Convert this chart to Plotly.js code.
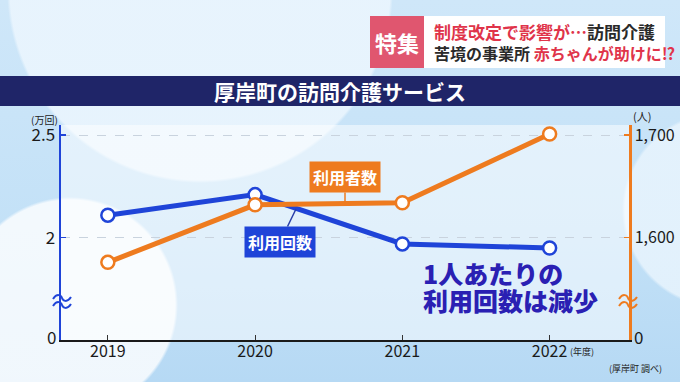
<!DOCTYPE html>
<html>
<head>
<meta charset="utf-8">
<script src="https://cdn.plot.ly/plotly-3.0.1.min.js"></script>
<style>
html, body { margin:0; padding:0; }
body {
  width:680px; height:382px; overflow:hidden;
  background:
    radial-gradient(circle at 70px 305px, rgba(255,255,255,0.8) 0 105px, rgba(255,255,255,0) 108px),
    radial-gradient(circle at 200px -10px, rgba(236,246,254,0.85) 0 190px, rgba(236,246,254,0) 193px),
    radial-gradient(circle at 720px 210px, rgba(232,244,253,0.85) 0 95px, rgba(232,244,253,0) 98px),
    linear-gradient(180deg, #cfe7f9 0%, #c3e1f7 60%, #b6d9f4 100%);
}
#chart { width:680px; height:382px; }
</style>
</head>
<body>
<div id="chart"></div>
<script>
// ---- data ----
const years = [2019, 2020, 2021, 2022];
const yearLabels = ['2019', '2020', '2021', '2022'];
const visits = [2.11, 2.21, 1.97, 1.95];      // 利用回数 (万回)
const users = [1576, 1632, 1634, 1701];       // 利用者数 (人)
const leftTickVals = [2, 2.5];
const leftTickText = ['2', '2.5'];
const rightTickVals = [1600, 1700];
const rightTickText = ['1,600', '1,700'];

// ---- layout helpers (pixel -> paper) ----
const L = 61, R = 629, T = 125, B = 340;
const px = x => (x - L) / (R - L);
const py = y => (B - y) / (B - T);

const FONT = '"Noto Sans CJK JP", "Noto Sans", sans-serif';
const BLUE = '#1f44d8';
const ORANGE = '#ee7b1f';

function wave(cx, cy) {
  const pts = [[cx-9, cy+1], [cx-5, cy-5], [cx-1, cy-3], [cx, cy], [cx+1, cy+3], [cx+5, cy+5], [cx+9, cy-1]];
  const p = pts.map(([x, y]) => px(x).toFixed(5) + ',' + py(y).toFixed(5));
  return 'M' + p[0] + ' C' + p[1] + ' ' + p[2] + ' ' + p[3] + ' C' + p[4] + ' ' + p[5] + ' ' + p[6];
}

const shapes = [
  // title band
  {type:'rect', xref:'paper', yref:'paper', x0:px(0), x1:px(680), y0:py(106), y1:py(76),
   fillcolor:'#1f2568', line:{width:0}, layer:'below'},
  // header box
  {type:'rect', xref:'paper', yref:'paper', x0:px(370), x1:px(424), y0:py(68), y1:py(16),
   fillcolor:'#e0566f', line:{width:0}},
  {type:'rect', xref:'paper', yref:'paper', x0:px(424), x1:px(665), y0:py(68), y1:py(16),
   fillcolor:'#ffffff', line:{width:0}},
  // axis break marks
  {type:'path', xref:'paper', yref:'paper', path:wave(62, 298), line:{color:BLUE, width:2}},
  {type:'path', xref:'paper', yref:'paper', path:wave(62, 305), line:{color:BLUE, width:2}},
  {type:'path', xref:'paper', yref:'paper', path:wave(628, 298), line:{color:ORANGE, width:2}},
  {type:'path', xref:'paper', yref:'paper', path:wave(628, 305), line:{color:ORANGE, width:2}},
];

const ann = (o) => Object.assign({xref:'paper', yref:'paper', showarrow:false, xanchor:'center', yanchor:'middle'}, o);

const annotations = [
  ann({x:px(397), y:py(42), text:'特集', font:{family:FONT, size:22, color:'#ffffff', weight:700}}),
  ann({x:px(432), y:py(31), xanchor:'left', text:'<span style="color:#e0344a">制度改定で影響が…</span>訪問介護',
       font:{family:FONT, size:17, color:'#2a2a2a', weight:700}}),
  ann({x:px(432), y:py(53), xanchor:'left', text:'苦境の事業所 <span style="color:#e0344a">赤ちゃんが助けに⁉</span>',
       font:{family:FONT, size:16, color:'#2a2a2a', weight:700}}),
  ann({x:px(340), y:py(91), text:'厚岸町の訪問介護サービス', font:{family:FONT, size:21, color:'#ffffff', weight:700}}),
  ann({x:px(44), y:py(120), text:'(万回)', font:{family:FONT, size:10, color:'#222'}}),
  ann({x:px(642), y:py(116), text:'(人)', font:{family:FONT, size:11, color:'#222'}}),
  ann({x:px(58), y:py(336), xanchor:'right', text:'0', font:{family:FONT, size:17, color:'#1a1a1a'}}),
  ann({x:px(632), y:py(336), xanchor:'left', text:'0', font:{family:FONT, size:17, color:'#1a1a1a'}}),
  ann({x:px(568), y:py(351), xanchor:'left', text:'(年度)', font:{family:FONT, size:9, color:'#222'}}),
  ann({x:px(664), y:py(368), xanchor:'right', text:'(厚岸町 調べ)', font:{family:FONT, size:9, color:'#222'}}),
  // series labels
  {xref:'paper', yref:'paper', x:px(345), y:py(205), ax:0, ay:-28, showarrow:true, arrowhead:0,
   arrowwidth:1.5, arrowcolor:ORANGE, text:'利用者数', bgcolor:ORANGE, borderpad:3,
   font:{family:FONT, size:16, color:'#ffffff', weight:700}},
  {xref:'paper', yref:'paper', x:px(296), y:py(209), ax:-16, ay:33, showarrow:true, arrowhead:0,
   arrowwidth:1.5, arrowcolor:'#2a3fa8', text:'利用回数', bgcolor:BLUE, borderpad:3,
   font:{family:FONT, size:16, color:'#ffffff', weight:700}},
  // callout
  ann({x:px(421), y:py(273), xanchor:'left', text:'1人あたりの', font:{family:FONT, size:25, color:'#2a20b3', weight:900}}),
  ann({x:px(421), y:py(300), xanchor:'left', text:'利用回数は減少', font:{family:FONT, size:25, color:'#2a20b3', weight:900}}),
];

const traces = [
  {x:years, y:users, yaxis:'y2', type:'scatter', mode:'lines+markers', name:'利用者数',
   line:{color:ORANGE, width:5}, marker:{size:13, color:'#ffffff', line:{color:ORANGE, width:2.5}}, hoverinfo:'none'},
  {x:years, y:visits, yaxis:'y', type:'scatter', mode:'lines+markers', name:'利用回数',
   line:{color:BLUE, width:5}, marker:{size:13, color:'#ffffff', line:{color:BLUE, width:2.5}}, hoverinfo:'none'},
];

const layout = {
  width:680, height:382,
  margin:{l:L, r:680-R, t:T, b:382-B, pad:0},
  paper_bgcolor:'rgba(0,0,0,0)',
  plot_bgcolor:'rgba(255,255,255,0.5)',
  showlegend:false,
  font:{family:FONT, color:'#1a1a1a'},
  xaxis:{range:[2018.682, 2022.539], tickvals:years, ticktext:yearLabels, showgrid:false, zeroline:false,
         showline:true, linecolor:'#1a1a1a', linewidth:2, ticks:'inside', ticklen:5, tickcolor:'#333', tickwidth:1,
         ticklabelstandoff:-4, tickfont:{family:FONT, size:16, color:'#1a1a1a'}},
  yaxis:{range:[1.502, 2.549], tickvals:leftTickVals, ticktext:leftTickText, showgrid:true, gridcolor:'#c9d3de',
         griddash:'dash', gridwidth:1, zeroline:false, showline:true, linecolor:BLUE, linewidth:2.5,
         ticks:'inside', ticklen:5, tickcolor:BLUE, tickwidth:1.5, tickfont:{family:FONT, size:17, color:'#1a1a1a'}},
  yaxis2:{range:[1500.4, 1709.7], overlaying:'y', side:'right', tickvals:rightTickVals, ticktext:rightTickText,
          showgrid:false, zeroline:false, showline:true, linecolor:ORANGE, linewidth:2.5,
          ticks:'inside', ticklen:5, tickcolor:ORANGE, tickwidth:1.5, tickfont:{family:FONT, size:16, color:'#1a1a1a'}},
  shapes:shapes,
  annotations:annotations,
};

Plotly.newPlot('chart', traces, layout, {staticPlot:true, displayModeBar:false});
</script>
</body>
</html>
